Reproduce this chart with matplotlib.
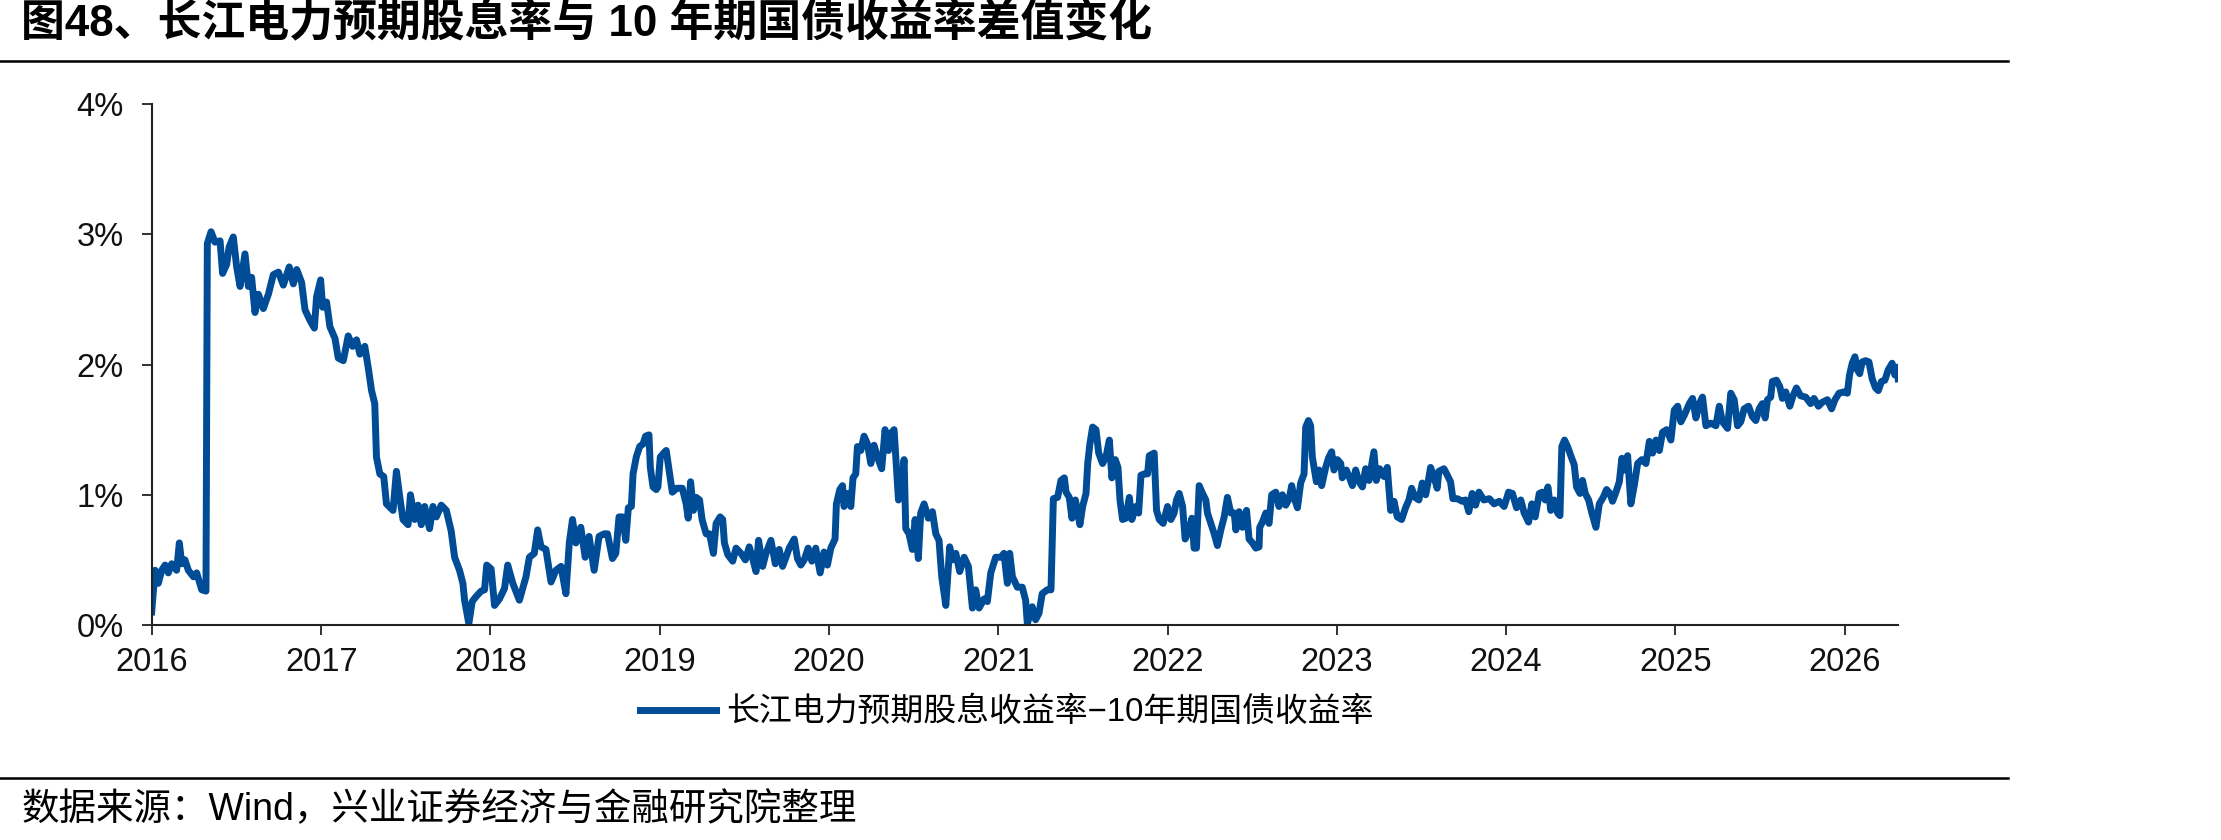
import numpy as np
import pandas as pd
import matplotlib
matplotlib.use("Agg")
import matplotlib.pyplot as plt
import matplotlib.dates as mdates
from matplotlib.lines import Line2D

plt.rcParams['font.family'] = ['Liberation Sans', 'Noto Sans CJK SC']
plt.rcParams['axes.unicode_minus'] = True

# spread (dividend yield - 10y CGB); t is decimal year
t_2016_17 = [2016.000, 2016.020, 2016.039, 2016.059, 2016.079, 2016.098, 2016.118, 2016.147, 2016.163, 2016.177,
             2016.196, 2016.216, 2016.246, 2016.265, 2016.295, 2016.320, 2016.328, 2016.350, 2016.373, 2016.403,
             2016.418, 2016.442, 2016.456, 2016.481, 2016.501, 2016.521, 2016.550, 2016.570, 2016.589, 2016.609,
             2016.629, 2016.658, 2016.688, 2016.717, 2016.747, 2016.776, 2016.811, 2016.835, 2016.855, 2016.884,
             2016.904, 2016.933, 2016.959, 2016.972, 2016.996, 2017.008, 2017.031, 2017.051, 2017.081, 2017.100,
             2017.130, 2017.159, 2017.185, 2017.208, 2017.228, 2017.257, 2017.277, 2017.297, 2017.316, 2017.326,
             2017.346, 2017.369, 2017.385, 2017.424, 2017.444, 2017.464, 2017.483, 2017.513, 2017.527, 2017.552,
             2017.572, 2017.591, 2017.611, 2017.640, 2017.660, 2017.680, 2017.709, 2017.739, 2017.768, 2017.788,
             2017.817, 2017.837, 2017.847, 2017.872, 2017.892, 2017.916, 2017.945, 2017.965, 2017.978]
v_2016_17 = [0.10, 0.42, 0.32, 0.42, 0.46, 0.40, 0.47, 0.42, 0.63, 0.47,
             0.50, 0.42, 0.37, 0.40, 0.27, 0.26, 2.93, 3.02, 2.94, 2.95,
             2.70, 2.77, 2.90, 2.98, 2.75, 2.60, 2.85, 2.60, 2.67, 2.40,
             2.54, 2.43, 2.54, 2.69, 2.71, 2.61, 2.75, 2.62, 2.73, 2.63,
             2.42, 2.34, 2.28, 2.52, 2.65, 2.44, 2.48, 2.29, 2.20, 2.05,
             2.03, 2.22, 2.14, 2.19, 2.08, 2.14, 1.98, 1.80, 1.70, 1.29,
             1.16, 1.14, 0.93, 0.88, 1.18, 0.98, 0.81, 0.77, 1.00, 0.81,
             0.92, 0.77, 0.91, 0.74, 0.91, 0.83, 0.92, 0.88, 0.72, 0.52,
             0.42, 0.32, 0.19, 0.01, 0.18, 0.22, 0.26, 0.27, 0.46]

t_2018_19 = [2018.004, 2018.024, 2018.053, 2018.083, 2018.102, 2018.132, 2018.171, 2018.210, 2018.230, 2018.259,
             2018.279, 2018.299, 2018.328, 2018.358, 2018.387, 2018.417, 2018.446, 2018.466, 2018.485, 2018.505,
             2018.534, 2018.560, 2018.583, 2018.613, 2018.642, 2018.672, 2018.692, 2018.721, 2018.741, 2018.760,
             2018.780, 2018.800, 2018.815, 2018.833, 2018.843, 2018.862, 2018.882, 2018.902, 2018.917, 2018.937,
             2018.945, 2018.961, 2018.980, 2018.990, 2019.004, 2019.024, 2019.039, 2019.059, 2019.075, 2019.102,
             2019.134, 2019.157, 2019.169, 2019.183, 2019.200, 2019.216, 2019.236, 2019.251, 2019.275, 2019.295,
             2019.318, 2019.334, 2019.358, 2019.373, 2019.383, 2019.403, 2019.432, 2019.452, 2019.481, 2019.507,
             2019.530, 2019.550, 2019.570, 2019.585, 2019.609, 2019.629, 2019.658, 2019.684, 2019.707, 2019.727,
             2019.747, 2019.766, 2019.796, 2019.815, 2019.835, 2019.855, 2019.878, 2019.900, 2019.923, 2019.949,
             2019.972, 2019.992]
v_2018_19 = [0.43, 0.15, 0.20, 0.28, 0.46, 0.32, 0.19, 0.37, 0.52, 0.55,
             0.73, 0.60, 0.58, 0.33, 0.42, 0.45, 0.24, 0.63, 0.81, 0.63,
             0.75, 0.52, 0.68, 0.42, 0.68, 0.70, 0.70, 0.51, 0.55, 0.83,
             0.83, 0.65, 0.90, 0.91, 1.16, 1.29, 1.37, 1.39, 1.45, 1.46,
             1.21, 1.06, 1.04, 1.06, 1.29, 1.32, 1.34, 1.16, 1.02, 1.05,
             1.05, 0.93, 0.82, 1.10, 0.88, 0.98, 0.96, 0.81, 0.70, 0.70,
             0.55, 0.78, 0.83, 0.81, 0.63, 0.54, 0.49, 0.59, 0.55, 0.50,
             0.60, 0.51, 0.41, 0.65, 0.45, 0.55, 0.65, 0.47, 0.58, 0.45,
             0.52, 0.59, 0.66, 0.51, 0.46, 0.50, 0.59, 0.49, 0.59, 0.40,
             0.56, 0.46]

t_2020_21 = [2020.012, 2020.037, 2020.045, 2020.065, 2020.081, 2020.090, 2020.110, 2020.130, 2020.143, 2020.159,
             2020.169, 2020.189, 2020.208, 2020.228, 2020.248, 2020.267, 2020.287, 2020.312, 2020.332, 2020.352,
             2020.365, 2020.385, 2020.395, 2020.411, 2020.424, 2020.444, 2020.454, 2020.473, 2020.493, 2020.509,
             2020.528, 2020.542, 2020.562, 2020.587, 2020.611, 2020.631, 2020.650, 2020.666, 2020.690, 2020.713,
             2020.729, 2020.749, 2020.772, 2020.798, 2020.823, 2020.847, 2020.866, 2020.886, 2020.916, 2020.935,
             2020.955, 2020.984, 2021.014, 2021.033, 2021.053, 2021.067, 2021.083, 2021.112, 2021.141, 2021.161,
             2021.171, 2021.200, 2021.220, 2021.240, 2021.259, 2021.289, 2021.311, 2021.325, 2021.350, 2021.370,
             2021.390, 2021.400, 2021.419, 2021.435, 2021.455, 2021.469, 2021.482, 2021.498, 2021.518, 2021.528,
             2021.541, 2021.557, 2021.577, 2021.593, 2021.616, 2021.636, 2021.656, 2021.671, 2021.691, 2021.707,
             2021.719, 2021.734, 2021.754, 2021.774, 2021.789, 2021.813, 2021.829, 2021.843, 2021.862, 2021.882,
             2021.892, 2021.921, 2021.935, 2021.951, 2021.974]
v_2020_21 = [0.59, 0.66, 0.93, 1.04, 1.07, 0.91, 1.01, 0.91, 1.13, 1.16,
             1.37, 1.34, 1.45, 1.39, 1.24, 1.38, 1.29, 1.20, 1.50, 1.34,
             1.47, 1.50, 1.29, 0.96, 1.01, 1.27, 0.74, 0.70, 0.58, 0.81,
             0.51, 0.86, 0.93, 0.82, 0.87, 0.70, 0.65, 0.37, 0.15, 0.60,
             0.50, 0.55, 0.41, 0.52, 0.45, 0.13, 0.27, 0.13, 0.20, 0.18,
             0.40, 0.52, 0.52, 0.55, 0.32, 0.55, 0.37, 0.29, 0.29, 0.19,
             0.01, 0.14, 0.04, 0.09, 0.24, 0.27, 0.27, 0.97, 0.98, 1.11,
             1.13, 1.02, 0.98, 0.82, 0.96, 0.86, 0.77, 0.91, 1.01, 1.24,
             1.39, 1.52, 1.50, 1.32, 1.24, 1.29, 1.42, 1.13, 1.27, 1.21,
             0.96, 0.81, 0.82, 0.98, 0.81, 0.91, 0.86, 1.15, 1.16, 1.16,
             1.30, 1.32, 0.88, 0.81, 0.78]

t_2022_23 = [2022.000, 2022.020, 2022.039, 2022.053, 2022.069, 2022.089, 2022.104, 2022.128, 2022.144, 2022.157,
             2022.171, 2022.187, 2022.207, 2022.226, 2022.236, 2022.256, 2022.276, 2022.295, 2022.315, 2022.335,
             2022.354, 2022.374, 2022.394, 2022.404, 2022.423, 2022.443, 2022.467, 2022.482, 2022.502, 2022.522,
             2022.541, 2022.545, 2022.561, 2022.581, 2022.600, 2022.616, 2022.640, 2022.659, 2022.679, 2022.699,
             2022.719, 2022.734, 2022.748, 2022.768, 2022.787, 2022.807, 2022.817, 2022.833, 2022.846, 2022.856,
             2022.880, 2022.896, 2022.911, 2022.935, 2022.951, 2022.970, 2022.984, 2023.004, 2023.024, 2023.033,
             2023.057, 2023.073, 2023.093, 2023.112, 2023.132, 2023.152, 2023.171, 2023.191, 2023.220, 2023.234,
             2023.254, 2023.280, 2023.299, 2023.319, 2023.339, 2023.358, 2023.384, 2023.407, 2023.427, 2023.443,
             2023.463, 2023.486, 2023.506, 2023.526, 2023.541, 2023.555, 2023.575, 2023.594, 2023.604, 2023.634,
             2023.654, 2023.673, 2023.687, 2023.713, 2023.742, 2023.762, 2023.781, 2023.801, 2023.821, 2023.841,
             2023.870, 2023.902, 2023.931, 2023.961, 2023.990]
v_2022_23 = [0.91, 0.81, 0.86, 0.96, 1.01, 0.91, 0.66, 0.73, 0.82, 0.59,
             0.59, 1.07, 1.01, 0.96, 0.86, 0.78, 0.70, 0.61, 0.73, 0.83,
             0.98, 0.86, 0.86, 0.73, 0.87, 0.75, 0.88, 0.66, 0.63, 0.59,
             0.60, 0.75, 0.79, 0.86, 0.78, 1.00, 1.02, 0.91, 1.00, 0.92,
             0.97, 1.07, 0.98, 0.90, 1.09, 1.16, 1.52, 1.57, 1.53, 1.29,
             1.10, 1.19, 1.07, 1.21, 1.28, 1.33, 1.19, 1.27, 1.24, 1.13,
             1.19, 1.14, 1.07, 1.19, 1.10, 1.06, 1.20, 1.11, 1.33, 1.11,
             1.20, 1.14, 1.21, 0.88, 0.95, 0.83, 0.81, 0.90, 0.96, 1.05,
             0.98, 0.96, 1.09, 1.00, 1.10, 1.21, 1.14, 1.05, 1.18, 1.20,
             1.15, 1.10, 0.97, 0.97, 0.95, 0.96, 0.87, 1.01, 0.92, 1.02,
             0.96, 0.97, 0.93, 0.95, 0.91]

t_2024_26 = [2024.016, 2024.039, 2024.063, 2024.088, 2024.108, 2024.134, 2024.153, 2024.173, 2024.197, 2024.216,
             2024.232, 2024.248, 2024.265, 2024.285, 2024.305, 2024.319, 2024.330, 2024.346, 2024.364, 2024.383,
             2024.403, 2024.417, 2024.437, 2024.452, 2024.468, 2024.488, 2024.507, 2024.531, 2024.551, 2024.574,
             2024.594, 2024.614, 2024.629, 2024.649, 2024.669, 2024.684, 2024.700, 2024.718, 2024.737, 2024.757,
             2024.777, 2024.802, 2024.826, 2024.846, 2024.865, 2024.885, 2024.905, 2024.924, 2024.948, 2024.973,
             2024.993, 2025.013, 2025.032, 2025.052, 2025.082, 2025.101, 2025.121, 2025.141, 2025.160, 2025.180,
             2025.209, 2025.239, 2025.259, 2025.278, 2025.308, 2025.327, 2025.347, 2025.367, 2025.386, 2025.406,
             2025.432, 2025.455, 2025.475, 2025.495, 2025.514, 2025.530, 2025.544, 2025.563, 2025.573, 2025.597,
             2025.617, 2025.632, 2025.652, 2025.676, 2025.695, 2025.715, 2025.740, 2025.770, 2025.799, 2025.819,
             2025.845, 2025.868, 2025.898, 2025.923, 2025.943, 2025.967, 2025.996, 2026.016, 2026.029, 2026.045,
             2026.061, 2026.075, 2026.089, 2026.104, 2026.124, 2026.144, 2026.163, 2026.183, 2026.199, 2026.218,
             2026.238, 2026.258, 2026.281, 2026.297, 2026.311, 2026.317]
v_2024_26 = [1.02, 1.01, 0.90, 0.96, 0.86, 0.79, 0.93, 0.83, 1.01, 1.02,
             0.96, 1.06, 0.88, 0.96, 0.86, 0.84, 1.37, 1.42, 1.37, 1.30,
             1.23, 1.06, 1.01, 1.11, 1.01, 0.96, 0.86, 0.75, 0.93, 0.98,
             1.04, 1.01, 0.95, 1.02, 1.10, 1.28, 1.19, 1.30, 0.93, 1.07,
             1.24, 1.27, 1.24, 1.41, 1.32, 1.42, 1.34, 1.48, 1.50, 1.42,
             1.65, 1.68, 1.56, 1.61, 1.70, 1.74, 1.59, 1.70, 1.75, 1.53,
             1.55, 1.53, 1.68, 1.56, 1.51, 1.78, 1.73, 1.53, 1.56, 1.66,
             1.68, 1.60, 1.57, 1.66, 1.70, 1.59, 1.73, 1.75, 1.87, 1.88,
             1.83, 1.74, 1.79, 1.68, 1.76, 1.82, 1.76, 1.75, 1.70, 1.74,
             1.68, 1.71, 1.73, 1.66, 1.73, 1.78, 1.79, 1.78, 1.92, 2.01,
             2.06, 1.96, 1.93, 2.02, 2.03, 2.02, 1.89, 1.82, 1.80, 1.87,
             1.88, 1.96, 2.01, 1.92, 1.98, 1.89]

y_ticks = [0, 1, 2, 3, 4]
title = '图48、长江电力预期股息率与 10 年期国债收益率差值变化'
series_name = '长江电力预期股息收益率−10年期国债收益率'
source = '数据来源：Wind，兴业证券经济与金融研究院整理'


def to_date(y):
    yr = int(np.floor(y))
    start = pd.Timestamp(year=yr, month=1, day=1)
    end = pd.Timestamp(year=yr + 1, month=1, day=1)
    return start + (end - start) * (y - yr)


t_all = t_2016_17 + t_2018_19 + t_2020_21 + t_2022_23 + t_2024_26
v_all = v_2016_17 + v_2018_19 + v_2020_21 + v_2022_23 + v_2024_26
dates = [to_date(y) for y in t_all]

fig = plt.figure(figsize=(22.21, 8.4), dpi=100)
ax = fig.add_axes([0.0683, 0.256, 0.7863, 0.620])

ax.plot(dates, v_all, color='#004C97', lw=5, solid_joinstyle='round', label=series_name)

ax.set_ylim(0, 4)
ax.set_yticks(y_ticks)
ax.set_yticklabels(['%d%%' % v for v in y_ticks])
ax.set_xlim(pd.Timestamp('2016-01-01'), to_date(2026.316))
ax.xaxis.set_major_locator(mdates.YearLocator())
ax.xaxis.set_major_formatter(mdates.DateFormatter('%Y'))

for s in ['top', 'right']:
    ax.spines[s].set_visible(False)
for s in ['left', 'bottom']:
    ax.spines[s].set_linewidth(1.5)
    ax.spines[s].set_color('#222222')
ax.tick_params(axis='both', direction='out', length=7, width=1.3, color='#222222',
               labelsize=23.5, labelcolor='#111111')
ax.tick_params(axis='y', pad=13)
ax.tick_params(axis='x', pad=9)

fig.legend(loc='center', bbox_to_anchor=(0.4534, 0.152), frameon=False, fontsize=23.7,
           handlelength=2.3, handletextpad=0.3)

fig.text(0.0095, 0.971, title, fontsize=31.6, fontweight='bold', va='center', ha='left')
fig.add_artist(Line2D([0, 0.904], [0.9268, 0.9268], color='black', lw=1.8))
fig.add_artist(Line2D([0, 0.904], [0.0742, 0.0742], color='black', lw=1.8))
fig.text(0.0095, 0.0357, source, fontsize=27, va='center', ha='left')

fig.savefig('out.png', dpi=100)
